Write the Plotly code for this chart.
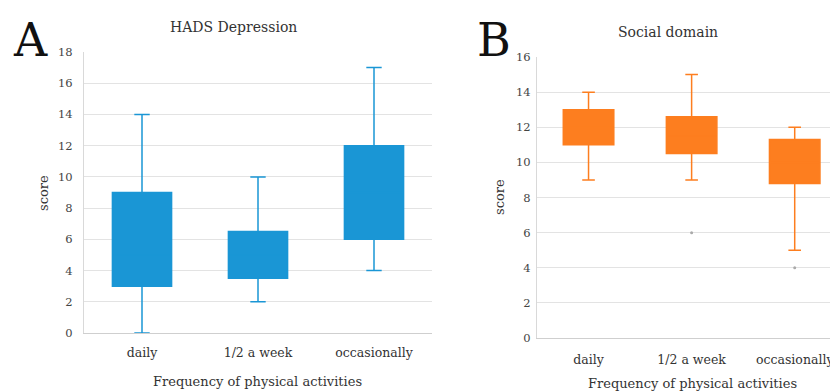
import plotly.graph_objects as go

categories = ["daily", "1/2 a week", "occasionally"]

# Panel A: HADS Depression
a_low = [0, 2, 4]
a_q1 = [3, 3.5, 6]
a_med = [5, 5, 9]
a_q3 = [9, 6.5, 12]
a_high = [14, 10, 17]

# Panel B: Social domain
b_low = [9, 9, 5]
b_q1 = [11, 10.5, 8.8]
b_med = [12, 11.5, 10]
b_q3 = [13, 12.6, 11.3]
b_high = [14, 15, 12]
b_out_cat = ["1/2 a week", "occasionally"]
b_out_val = [6, 4]

blue = "#1a96d5"
orange = "#fd7e1f"
serif = "DejaVu Serif, serif"

fig = go.Figure()
fig.add_trace(go.Box(
    x=categories, q1=a_q1, median=a_med, q3=a_q3,
    lowerfence=a_low, upperfence=a_high,
    fillcolor=blue, line=dict(color=blue, width=1.5),
    width=0.51, whiskerwidth=0.26, boxpoints=False,
    xaxis="x", yaxis="y", showlegend=False, hoverinfo="skip"))
fig.add_trace(go.Box(
    x=categories, q1=b_q1, median=b_med, q3=b_q3,
    lowerfence=b_low, upperfence=b_high,
    fillcolor=orange, line=dict(color=orange, width=1.5),
    width=0.49, whiskerwidth=0.25, boxpoints=False,
    xaxis="x2", yaxis="y2", showlegend=False, hoverinfo="skip"))
fig.add_trace(go.Scatter(
    x=b_out_cat, y=b_out_val, mode="markers",
    marker=dict(size=3, color="#aaaaaa"),
    xaxis="x2", yaxis="y2", showlegend=False, hoverinfo="skip"))

# page body has an 8px margin; lay out in window pixels
OFF = 8
W, H = 838 - OFF, 391 - OFF
def px(x): return (x - OFF) / W
def py(y): return 1 - (y - OFF) / H

grid = "#e3e3e3"
def yax(ticklen):
    return dict(showgrid=True, gridcolor=grid, gridwidth=1, zeroline=False,
                showline=True, linecolor="#d9d9d9", linewidth=1, automargin=False,
                ticks="outside", ticklen=ticklen, tickcolor="rgba(0,0,0,0)",
                tickfont=dict(family=serif, size=11.5, color="#444"), dtick=2)
def xax(ticklen):
    return dict(type="category", showgrid=False, showline=True, automargin=False,
                linecolor="#cfcfcf", linewidth=1, zeroline=False,
                ticks="outside", ticklen=ticklen, tickcolor="rgba(0,0,0,0)",
                tickfont=dict(family=serif, size=12.5, color="#333"))

fig.update_layout(
    width=W, height=H, margin=dict(l=0, r=0, t=0, b=0),
    paper_bgcolor="white", plot_bgcolor="white",
    xaxis=dict(domain=[px(84), px(432)], range=[-0.5, 2.5], anchor="y", **xax(8)),
    yaxis=dict(domain=[py(333), py(52)], range=[0, 18], anchor="x", **yax(8)),
    xaxis2=dict(domain=[px(537), 1.0], range=[-0.5, 2.42], anchor="y2", **xax(10)),
    yaxis2=dict(domain=[py(338), py(57)], range=[0, 16], anchor="x2", **yax(3)),
)

ann = []
def add(text, x, y, size, angle=0, color="#333"):
    ann.append(dict(text=text, x=px(x), y=py(y), xref="paper", yref="paper",
                    showarrow=False, textangle=angle, xanchor="center", yanchor="middle",
                    font=dict(family=serif, size=size, color=color)))

add("A", 30, 40, 46, color="#111")
add("B", 494, 40, 46, color="#111")
add("HADS Depression", 233, 27, 14)
add("Social domain", 668, 32, 14)
add("score", 43, 193, 13, angle=-90)
add("score", 499, 197, 13, angle=-90)
add("Frequency of physical activities", 257, 381, 13)
add("Frequency of physical activities", 692, 383, 13)
fig.update_layout(annotations=ann)

fig.write_html("out.html")
